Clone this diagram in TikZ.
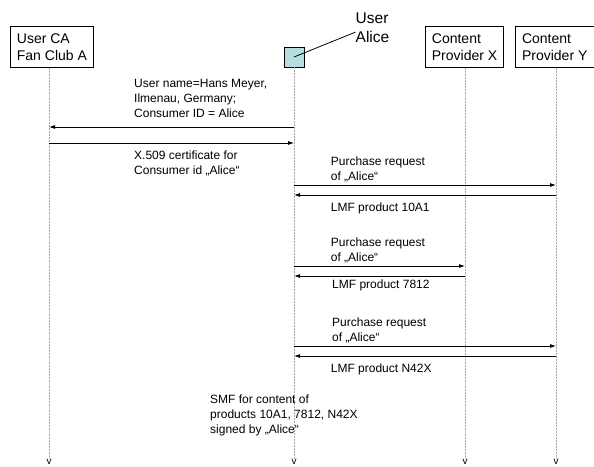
\documentclass[tikz,border=0pt]{standalone}
\usepackage{fontspec}
\setmainfont{Liberation Sans}
\usetikzlibrary{positioning, arrows.meta}
\definecolor{alicefill}{RGB}{182,222,224}
\definecolor{lifegray}{RGB}{165,165,165}

\begin{document}
\begin{tikzpicture}[x=1pt, y=-1pt]
    \tikzstyle{party} = [rectangle, draw=black, line width=0.8pt, align=left, minimum height=41pt, inner xsep=6.5pt, font=\fontsize{14}{17}\selectfont]
    \tikzstyle{user} = [rectangle, draw=black, line width=0.8pt, fill=alicefill, minimum size=20pt, inner sep=0pt]
    \tikzstyle{msgtext} = [anchor=north west, inner sep=0pt, align=left, font=\fontsize{12}{15}\selectfont]
    \tikzstyle{lifeend} = [inner sep=0pt, font=\fontsize{10}{12}\selectfont]
    \tikzstyle{lifeline} = [draw=lifegray, line width=0.8pt, dash pattern=on 2pt off 1pt]
    \tikzstyle{msg} = [line width=0.8pt, -{Latex[length=6pt, width=4pt]}]

    \useasboundingbox (0,0) rectangle (594,466);

    % parties
    \node (ca) [party, anchor=north west] at (10,26) {User CA\\Fan Club A};
    \node (alice) [user] at (294,57) {};
    \node (alicelbl) [align=left, inner sep=0pt, anchor=north west, font=\fontsize{15.5}{19}\selectfont] at (355.5,12.5) {User\\Alice};
    \node (provx) [party, anchor=north west] at (425,26) {Content\\Provider X};
    \node (provy) [party, right=11pt of provx] {Content\\Provider Y};
    \draw [line width=0.8pt] (alice.center) -- ([yshift=-4.5pt]alicelbl.west);

    % lifelines
    \node (vca) [lifeend] at (49,462) {v};
    \node (valice) [lifeend] at (294,462) {v};
    \node (vprovx) [lifeend] at (465,462) {v};
    \node (vprovy) [lifeend] at (556,462) {v};
    \foreach \p in {ca, alice, provx, provy}
        \draw [lifeline] (\p.south -| v\p) -- (v\p.north);

    % messages
    \draw [msg] (valice |- 0,127) -- (vca |- 0,127);
    \draw [msg] (vca |- 0,143) -- (valice |- 0,143);
    \draw [msg] (valice |- 0,185) -- (vprovy |- 0,185);
    \draw [msg] (vprovy |- 0,195) -- (valice |- 0,195);
    \draw [msg] (valice |- 0,266) -- (vprovx |- 0,266);
    \draw [msg] (vprovx |- 0,276) -- (valice |- 0,276);
    \draw [msg] (valice |- 0,346) -- (vprovy |- 0,346);
    \draw [msg] (vprovy |- 0,356) -- (valice |- 0,356);

    \node (m1) [msgtext] at (134,79.5) {User name=Hans Meyer,\\Ilmenau, Germany;\\Consumer ID = Alice};
    \node (m2) [msgtext] at (134,150.5) {X.509 certificate for\\Consumer id „Alice“};
    \node (m3) [msgtext] at (330.7,156.5) {Purchase request\\of „Alice“};
    \node (m4) [msgtext] at (330.7,202.5) {LMF product 10A1};
    \node (m5) [msgtext] at (330.7,237.5) {Purchase request\\of „Alice“};
    \node (m6) [msgtext] at (332,279.5) {LMF product 7812};
    \node (m7) [msgtext] at (332,317.5) {Purchase request\\of „Alice“};
    \node (m8) [msgtext] at (330.7,363.5) {LMF product N42X};
    \node (m9) [msgtext] at (210,394.5) {SMF for content of\\products 10A1, 7812, N42X\\signed by „Alice“};
\end{tikzpicture}
\end{document}
